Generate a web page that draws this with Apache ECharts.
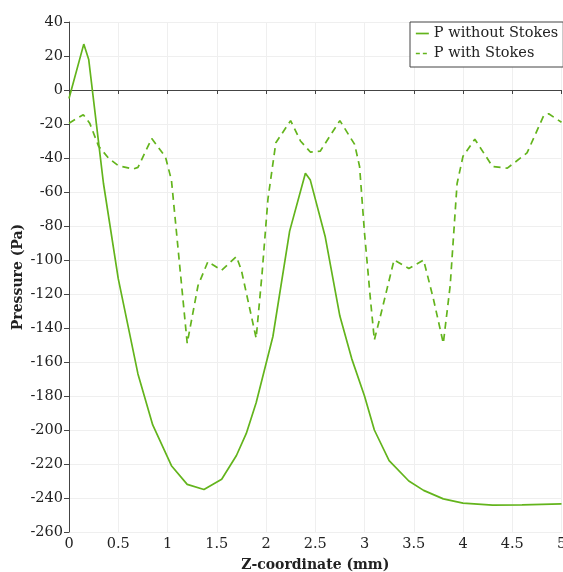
<!DOCTYPE html>
<html>
<head>
<meta charset="utf-8">
<script src="https://cdn.jsdelivr.net/npm/echarts@6/dist/echarts.min.js"></script>
<style>
html,body{margin:0;padding:0;background:#fff;}
#chart{width:563px;height:572px;}
</style>
</head>
<body>
<div id="chart"></div>
<script>
// Data
var seriesNames = ['P without Stokes', 'P with Stokes'];

var zWithout = [0, 0.15, 0.2, 0.35, 0.5, 0.7, 0.85, 1.04, 1.2, 1.37, 1.55, 1.7, 1.8, 1.9, 2.07, 2.24, 2.40, 2.45, 2.6, 2.75, 2.87, 3.0, 3.1, 3.25, 3.45, 3.6, 3.8, 4.0, 4.3, 4.6, 5.0];
var pWithout = [-5, 27, 18, -55, -111, -167, -197, -221, -232, -235, -229, -215, -202, -184, -145, -83, -49, -53, -86, -133, -158, -180, -200, -218, -230, -235.5, -240.5, -243, -244.2, -244, -243.5];

var zWith = [0, 0.145, 0.21, 0.3, 0.4, 0.5, 0.65, 0.7, 0.84, 0.98, 1.04, 1.2, 1.31, 1.41, 1.55, 1.7, 1.75, 1.9, 1.96, 2.02, 2.1, 2.25, 2.35, 2.45, 2.55, 2.75, 2.9, 2.95, 3.0, 3.06, 3.1, 3.17, 3.3, 3.45, 3.6, 3.7, 3.8, 3.87, 3.94, 4.0, 4.12, 4.3, 4.45, 4.65, 4.82, 4.87, 5.0];
var pWith = [-19.5, -14.5, -19.5, -33, -40, -44.5, -46.5, -45.5, -28.5, -39.5, -53, -149, -115, -101, -106, -98, -106, -146, -108, -64, -31, -18, -30, -36.5, -36, -18, -32, -45, -84, -123, -147, -131, -100, -105, -100, -123, -149, -115, -55, -39, -29, -45, -46, -37, -15, -14, -19];

var xAxisTitle = 'Z-coordinate (mm)';
var yAxisTitle = 'Pressure (Pa)';

function pairs(xs, ys) {
  var out = [];
  for (var i = 0; i < xs.length; i++) out.push([xs[i], ys[i]]);
  return out;
}

var green = '#63b41c';
var fontFam = 'DejaVu Serif';
var chart = echarts.init(document.getElementById('chart'), null, {renderer: 'canvas'});
chart.setOption({
  animation: false,
  backgroundColor: '#fff',
  grid: {left: 69, right: 1.5, top: 22, bottom: 40, containLabel: false, outerBoundsMode: 'none'},
  legend: {
    orient: 'vertical',
    left: 410, top: 22,
    padding: [4, 5, 6, 5],
    itemGap: 5,
    itemWidth: 13,
    itemHeight: 14,
    backgroundColor: '#fff',
    borderColor: '#444',
    borderWidth: 1,
    borderRadius: 0,
    itemStyle: {opacity: 0, borderWidth: 0},
    textStyle: {fontFamily: fontFam, fontSize: 14.5, color: '#222'},
    data: [
      {name: seriesNames[0], lineStyle: {type: 'solid', width: 1.7}},
      {name: seriesNames[1], lineStyle: {type: [4, 3], width: 1.7}}
    ]
  },
  xAxis: {
    type: 'value', min: 0, max: 5, interval: 0.5,
    name: xAxisTitle, nameLocation: 'middle', nameGap: 26, nameMoveOverlap: false,
    nameTextStyle: {fontFamily: fontFam, fontSize: 14, fontWeight: 'bold', color: '#222'},
    axisLine: {show: true, lineStyle: {color: '#444', width: 1}},
    axisTick: {show: true, length: 4, lineStyle: {color: '#444'}},
    axisLabel: {fontFamily: fontFam, fontSize: 14.5, color: '#222', margin: 5},
    splitLine: {show: true, lineStyle: {color: '#efefef', width: 1}}
  },
  yAxis: {
    type: 'value', min: -260, max: 40, interval: 20,
    name: yAxisTitle, nameLocation: 'middle', nameGap: 44, nameMoveOverlap: false,
    nameTextStyle: {fontFamily: fontFam, fontSize: 14, fontWeight: 'bold', color: '#222'},
    axisLine: {show: true, lineStyle: {color: '#444', width: 1}},
    axisTick: {show: true, length: 5, lineStyle: {color: '#444'}},
    axisLabel: {fontFamily: fontFam, fontSize: 14.5, color: '#222', margin: 6},
    splitLine: {show: true, lineStyle: {color: '#efefef', width: 1}}
  },
  series: [
    {
      name: seriesNames[0], type: 'line', data: pairs(zWithout, pWithout),
      showSymbol: false, symbol: 'none', smooth: false,
      lineStyle: {color: green, width: 1.7, type: 'solid'},
      itemStyle: {color: green}
    },
    {
      name: seriesNames[1], type: 'line', data: pairs(zWith, pWith),
      showSymbol: false, symbol: 'none', smooth: false,
      lineStyle: {color: green, width: 1.7, type: [7, 5]},
      itemStyle: {color: green}
    }
  ]
});
</script>
</body>
</html>
